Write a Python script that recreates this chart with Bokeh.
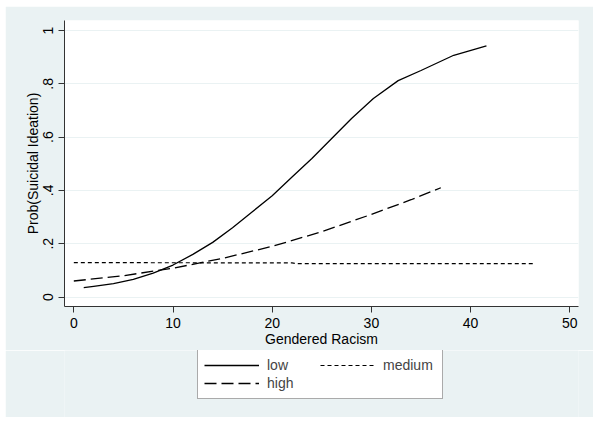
from bokeh.plotting import figure
from bokeh.layouts import column
from bokeh.models import Legend, LegendItem, FixedTicker, Range1d
from bokeh.embed import file_html
from bokeh.resources import INLINE

# Data
low_x = [1, 2, 4, 6, 8, 10, 12, 14, 16, 18, 20, 22, 24, 26, 28, 30.2, 32.7, 35, 38.3, 41.6]
low_y = [0.035, 0.04, 0.05, 0.066, 0.09, 0.12, 0.16, 0.205, 0.26, 0.32, 0.38, 0.45, 0.52, 0.595, 0.67, 0.745, 0.812, 0.85, 0.907, 0.942]

high_x = [0, 5, 10, 15, 20, 25, 30, 34, 37]
high_y = [0.06, 0.08, 0.108, 0.145, 0.19, 0.245, 0.31, 0.365, 0.41]

med_x = [0, 22, 22.5, 46.4]
med_y = [0.129, 0.128, 0.125, 0.125]

series_names = ["low", "medium", "high"]
series_data = {"low": (low_x, low_y), "medium": (med_x, med_y), "high": (high_x, high_y)}

x_ticks = [0, 10, 20, 30, 40, 50]
y_ticks = [0, 0.2, 0.4, 0.6, 0.8, 1]
y_tick_labels = ["0", ".2", ".4", ".6", ".8", "1"]

BG = "#EAF2F3"
FONT = "Liberation Sans"
styles = {"low": dict(line_dash="solid", line_width=1.3),
          "medium": dict(line_dash="4 3", line_width=1.2),
          "high": dict(line_dash="12 5", line_width=1.3)}

p = figure(width=588, height=344, output_backend="svg", toolbar_location=None,
           x_range=Range1d(-0.94, 50.88), y_range=Range1d(-0.0356, 1.0375),
           background_fill_color="white", border_fill_color=BG,
           min_border_left=59, min_border_right=15, min_border_top=14, min_border_bottom=44)
p.outline_line_color = None

for name in series_names:
    xs, ys = series_data[name]
    p.line(xs, ys, line_color="black", **styles[name])

p.xaxis.ticker = FixedTicker(ticks=x_ticks)
p.yaxis.ticker = FixedTicker(ticks=y_ticks)
p.yaxis.major_label_overrides = {t: l for t, l in zip(y_ticks, y_tick_labels)}
p.yaxis.major_label_orientation = "vertical"

for ax in (p.xaxis, p.yaxis):
    ax.axis_line_color = "#333333"
    ax.major_tick_line_color = "#333333"
    ax.major_tick_out = 6
    ax.major_tick_in = 0
    ax.minor_tick_line_color = None
    ax.major_label_text_font = FONT
    ax.major_label_text_font_size = "14px"
    ax.major_label_text_color = "black"
    ax.major_label_standoff = 5
    ax.axis_label_text_font = FONT
    ax.axis_label_text_font_size = "14px"
    ax.axis_label_text_font_style = "normal"
    ax.axis_label_text_color = "black"

p.xaxis.axis_label = "Gendered Racism"
p.yaxis.axis_label = "Prob(Suicidal Ideation)"
p.xaxis.axis_label_standoff = 0
p.yaxis.axis_label_standoff = 0

p.xgrid.grid_line_color = None
p.ygrid.grid_line_color = BG
p.ygrid.grid_line_width = 1

# Legend strip below the chart (same gray background); its line renderers
# use the same series but lie outside this strip's ranges, so only the legend shows.
q = figure(width=588, height=67, output_backend="svg", toolbar_location=None,
           x_range=Range1d(-200, -100), y_range=Range1d(-200, -100),
           background_fill_color=BG, border_fill_color=BG,
           min_border=0)
q.outline_line_color = None
q.axis.visible = False
q.grid.visible = False
items = []
for name in series_names:
    xs, ys = series_data[name]
    r = q.line(xs, ys, line_color="black", **styles[name])
    items.append(LegendItem(label=name, renderers=[r]))

legend = Legend(items=items, ncols=2, location=(133, 18), orientation="horizontal")
legend.label_text_font = FONT
legend.label_text_font_size = "14px"
legend.glyph_width = 55
legend.glyph_height = 18
legend.label_height = 18
legend.label_width = 53
legend.label_standoff = 8
legend.spacing = 0
legend.padding = 6
legend.border_line_color = "#555555"
legend.background_fill_color = "white"
legend.background_fill_alpha = 1
legend.margin = 0
q.add_layout(legend, "center")

layout = column(p, q, spacing=0, margin=(6, 0, 0, 5))

open("out.html", "w").write(file_html(layout, INLINE))
